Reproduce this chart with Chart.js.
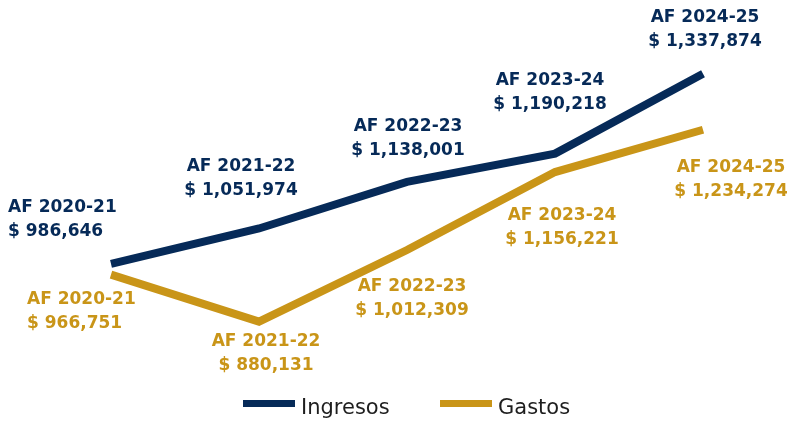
<!DOCTYPE html>
<html>
<head>
<meta charset="utf-8">
<script src="https://cdn.jsdelivr.net/npm/chart.js@4"></script>
<style>
  html, body { margin: 0; padding: 0; background: #fff; }
  #wrap { width: 787px; height: 423px; }
</style>
</head>
<body>
<div id="wrap"><canvas id="myChart"></canvas></div>
<script>
const years = ['AF 2020-21', 'AF 2021-22', 'AF 2022-23', 'AF 2023-24', 'AF 2024-25'];
const ingresos = [986646, 1051974, 1138001, 1190218, 1337874];
const gastos = [966751, 880131, 1012309, 1156221, 1234274];

const navy = '#062a58';
const gold = '#c99518';
const labelFont = 'bold 17px "DejaVu Sans"';

// label placement per point: [dx, dy of first line, align]
const ingresosOffsets = [[-103, -56, 'left'], [-18, -62], [1, -55], [-5, -73], [2, -56]];
const gastosOffsets = [[-84, 25, 'left'], [7, 20], [5, 37], [7, 44], [28, 38]];

function money(v) {
  return '$ ' + v.toLocaleString('en-US');
}

const pointLabels = {
  id: 'pointLabels',
  afterDatasetsDraw(chart) {
    const { ctx } = chart;
    ctx.save();
    ctx.font = labelFont;
    ctx.textBaseline = 'middle';
    chart.data.datasets.forEach((ds, i) => {
      const meta = chart.getDatasetMeta(i);
      meta.data.forEach((pt, j) => {
        const [dx, dy, align] = ds.labelOffsets[j];
        ctx.textAlign = align || 'center';
        ctx.fillStyle = ds.borderColor;
        ctx.fillText(years[j], pt.x + dx, pt.y + dy);
        ctx.fillText(money(ds.data[j]), pt.x + dx, pt.y + dy + 24);
      });
    });
    ctx.restore();
  },
  afterDraw(chart) {
    const { ctx } = chart;
    const items = [
      { text: 'Ingresos', color: navy, x: 243 },
      { text: 'Gastos', color: gold, x: 440 },
    ];
    ctx.save();
    ctx.font = '21px "DejaVu Sans"';
    ctx.textBaseline = 'middle';
    items.forEach(item => {
      ctx.fillStyle = item.color;
      ctx.fillRect(item.x, 400, 52, 7);
      ctx.fillStyle = '#1e1e1e';
      ctx.fillText(item.text, item.x + 58, 409);
    });
    ctx.restore();
  },
};

new Chart(document.querySelector('#myChart'), {
  type: 'line',
  data: {
    labels: years,
    datasets: [
      {
        label: 'Ingresos',
        data: ingresos,
        borderColor: navy,
        backgroundColor: navy,
        borderWidth: 8,
        pointRadius: 0,
        tension: 0,
        labelOffsets: ingresosOffsets,
      },
      {
        label: 'Gastos',
        data: gastos,
        borderColor: gold,
        backgroundColor: gold,
        borderWidth: 8,
        pointRadius: 0,
        tension: 0,
        labelOffsets: gastosOffsets,
      },
    ],
  },
  options: {
    responsive: true,
    maintainAspectRatio: false,
    animation: false,
    layout: {
      padding: { left: 111, right: 84, top: 40, bottom: 58 },
    },
    scales: {
      x: { display: false },
      y: { display: false, min: 800000, max: 1400000 },
    },
    plugins: {
      legend: { display: false },
      tooltip: { enabled: false },
    },
  },
  plugins: [pointLabels],
});
</script>
</body>
</html>
